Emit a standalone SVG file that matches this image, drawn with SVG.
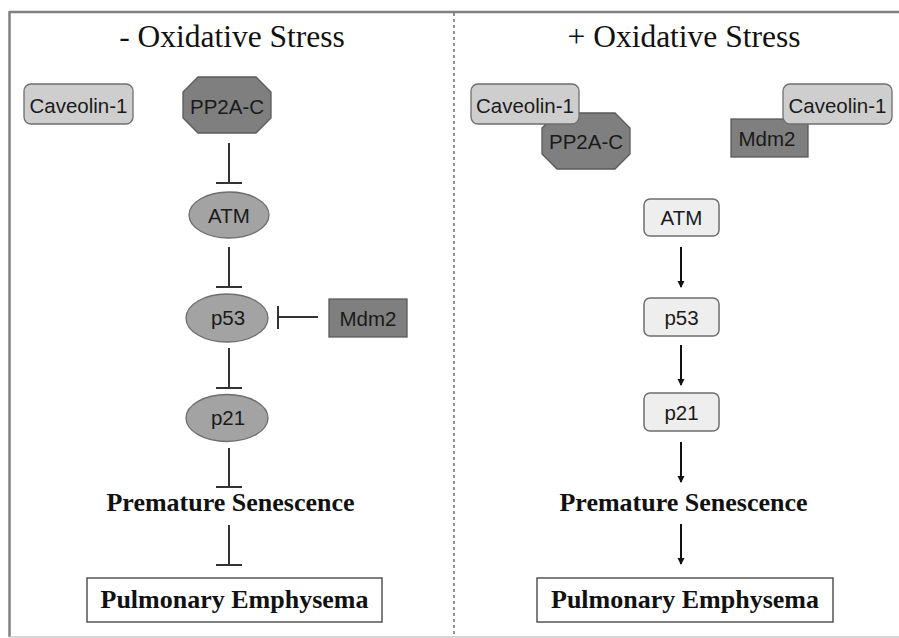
<svg xmlns="http://www.w3.org/2000/svg" width="899" height="638" viewBox="0 0 899 638">
<defs>
<style>
.title{font-family:"Liberation Serif","Times New Roman",serif;font-size:31.5px;fill:#111;text-anchor:middle}
.bold{font-family:"Liberation Serif","Times New Roman",serif;font-size:26px;font-weight:bold;fill:#111;text-anchor:middle}
.lbl{font-family:"Liberation Sans",Arial,sans-serif;font-size:20.5px;fill:#1a1a1a;text-anchor:middle}
.cav{fill:#cecece;stroke:#6e6e6e;stroke-width:1.3}
.dark{fill:#7f7f7f;stroke:#5a5a5a;stroke-width:1.3}
.mid{fill:#a3a3a3;stroke:#6e6e6e;stroke-width:1.3}
.light{fill:#eeeeee;stroke:#6e6e6e;stroke-width:1.5}
.box{fill:#fff;stroke:#555;stroke-width:1.5}
.inh{stroke:#333;stroke-width:2;fill:none}
.act{stroke:#111;stroke-width:2;fill:none}
</style>
<marker id="arr" markerWidth="8" markerHeight="8" refX="6" refY="4" orient="auto" markerUnits="userSpaceOnUse">
<path d="M0,0.5 L7,4 L0,7.5 z" fill="#111"/>
</marker>
</defs>
<rect width="899" height="638" fill="#fff"/>
<g id="frame">
<line x1="9" y1="12" x2="899" y2="12" stroke="#808080" stroke-width="2.5"/>
<line x1="9.5" y1="11" x2="9.5" y2="637" stroke="#808080" stroke-width="2.5"/>
<line x1="9" y1="637" x2="899" y2="637" stroke="#c8c8c8" stroke-width="1.5"/>
<line x1="454" y1="13" x2="454" y2="637" stroke="#777" stroke-width="1.6" stroke-dasharray="3,3"/>
</g>
<text class="title" x="232" y="47">- Oxidative Stress</text>
<text class="title" x="684" y="47">+ Oxidative Stress</text>
<g id="connectors">
<line class="inh" x1="229" y1="143" x2="229" y2="183"/><line class="inh" x1="216" y1="183" x2="242" y2="183"/>
<line class="inh" x1="229" y1="247" x2="229" y2="287"/><line class="inh" x1="216" y1="287" x2="242" y2="287"/>
<line class="inh" x1="318" y1="317" x2="278" y2="317"/><line class="inh" x1="278" y1="306" x2="278" y2="329"/>
<line class="inh" x1="229" y1="348" x2="229" y2="388"/><line class="inh" x1="216" y1="388" x2="242" y2="388"/>
<line class="inh" x1="229" y1="448" x2="229" y2="487"/><line class="inh" x1="216" y1="487" x2="242" y2="487"/>
<line class="inh" x1="229" y1="525" x2="229" y2="565"/><line class="inh" x1="216" y1="565" x2="242" y2="565"/>
<line class="act" x1="681" y1="247" x2="681" y2="287" marker-end="url(#arr)"/>
<line class="act" x1="681" y1="345" x2="681" y2="385" marker-end="url(#arr)"/>
<line class="act" x1="681" y1="442" x2="681" y2="482" marker-end="url(#arr)"/>
<line class="act" x1="681" y1="524" x2="681" y2="564" marker-end="url(#arr)"/>
</g>
<g id="L_caveolin"><rect class="cav" x="24" y="84" width="109" height="40" rx="7"/><text class="lbl" x="78.5" y="112.5">Caveolin-1</text></g>
<g id="L_pp2a"><polygon class="dark" points="198,77 256,77 271,92 271,118 256,133 198,133 183,118 183,92"/><text class="lbl" x="227" y="114">PP2A-C</text></g>
<g id="L_atm"><ellipse class="mid" cx="229" cy="215" rx="40" ry="23"/><text class="lbl" x="229" y="222.5">ATM</text></g>
<g id="L_p53"><ellipse class="mid" cx="227" cy="318" rx="41" ry="24"/><text class="lbl" x="228" y="325">p53</text></g>
<g id="L_mdm2"><rect class="dark" x="329" y="299" width="78" height="38"/><text class="lbl" x="368" y="325.5">Mdm2</text></g>
<g id="L_p21"><ellipse class="mid" cx="227" cy="418" rx="41" ry="23.5"/><text class="lbl" x="228" y="425">p21</text></g>
<g id="L_sen"><text class="bold" x="230.5" y="511">Premature Senescence</text></g>
<g id="L_emph"><rect class="box" x="87" y="578" width="295" height="44"/><text class="bold" x="234.5" y="608">Pulmonary Emphysema</text></g>
<g id="R_pp2a"><polygon class="dark" points="557,113 615,113 630,128 630,154 615,169 557,169 542,154 542,128"/><text class="lbl" x="586" y="149">PP2A-C</text></g>
<g id="R_caveolin1"><rect class="cav" x="471" y="84" width="108" height="40" rx="7"/><text class="lbl" x="525" y="112.5">Caveolin-1</text></g>
<g id="R_mdm2"><rect class="dark" x="731" y="119" width="77" height="38"/><text class="lbl" x="767" y="145.5">Mdm2</text></g>
<g id="R_caveolin2"><rect class="cav" x="783" y="84" width="109" height="40" rx="7"/><text class="lbl" x="837.5" y="112.5">Caveolin-1</text></g>
<g id="R_atm"><rect class="light" x="644" y="199" width="75" height="37" rx="6"/><text class="lbl" x="681.5" y="225">ATM</text></g>
<g id="R_p53"><rect class="light" x="644" y="298" width="75" height="38" rx="6"/><text class="lbl" x="681.5" y="324.5">p53</text></g>
<g id="R_p21"><rect class="light" x="644" y="393" width="75" height="38" rx="6"/><text class="lbl" x="681.5" y="419.5">p21</text></g>
<g id="R_sen"><text class="bold" x="683.5" y="511">Premature Senescence</text></g>
<g id="R_emph"><rect class="box" x="537" y="578" width="296" height="44"/><text class="bold" x="685" y="608">Pulmonary Emphysema</text></g>
</svg>
